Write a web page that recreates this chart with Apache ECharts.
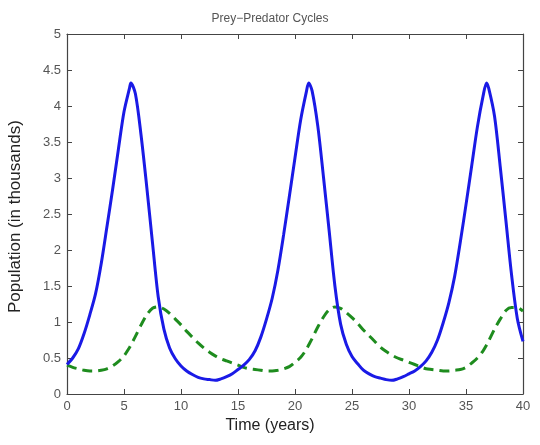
<!DOCTYPE html>
<html>
<head>
<meta charset="utf-8">
<title>Prey-Predator Cycles</title>
<script src="https://cdn.jsdelivr.net/npm/echarts@6.0.0/dist/echarts.min.js"></script>
<style>
body { margin: 0; background: #fff; }
#main { width: 540px; height: 445px; }
</style>
</head>
<body>
<div id="main"></div>
<script>
// 时间 (年)
var years = [0, 0.5, 1, 1.5, 2, 2.5, 3, 3.5, 4, 4.5, 5, 5.5, 5.6, 6, 6.5, 7, 7.5, 8, 8.5, 9, 9.5,
	10, 10.5, 11, 11.5, 12, 12.5, 13, 13.5, 14, 14.5, 15, 15.5, 16, 16.5, 17, 17.5, 18, 18.5, 19, 19.5,
	20, 20.5, 21, 21.2, 21.5, 22, 22.5, 23, 23.5, 24, 24.5, 25, 25.5, 26, 26.5, 27, 27.5, 28, 28.5, 29, 29.5,
	30, 30.5, 31, 31.5, 32, 32.5, 33, 33.5, 34, 34.5, 35, 35.5, 36, 36.5, 36.8, 37, 37.5, 38, 38.5, 39, 39.5, 40];

// 兔子 (prey), 千只
var prey = [0.41, 0.50, 0.63, 0.84, 1.10, 1.39, 1.81, 2.32, 2.84, 3.39, 3.92, 4.26, 4.32, 4.17, 3.59, 2.87, 2.10, 1.35, 0.90, 0.64, 0.49,
	0.39, 0.32, 0.27, 0.23, 0.21, 0.20, 0.19, 0.21, 0.24, 0.28, 0.34, 0.40, 0.48, 0.60, 0.79, 1.04, 1.33, 1.72, 2.21, 2.74,
	3.28, 3.81, 4.20, 4.32, 4.21, 3.72, 3.01, 2.26, 1.50, 0.97, 0.69, 0.52, 0.42, 0.33, 0.28, 0.24, 0.22, 0.20, 0.19, 0.21, 0.24,
	0.28, 0.32, 0.38, 0.46, 0.58, 0.75, 0.99, 1.27, 1.63, 2.11, 2.63, 3.17, 3.71, 4.14, 4.32, 4.24, 3.86, 3.16, 2.41, 1.65, 1.05, 0.73];

// 狼 (predator), 千只
var predator = [0.40, 0.37, 0.35, 0.33, 0.32, 0.32, 0.33, 0.35, 0.39, 0.45, 0.53, 0.65, 0.68, 0.80, 0.96, 1.10, 1.19, 1.21, 1.18, 1.12, 1.04,
	0.96, 0.87, 0.79, 0.71, 0.64, 0.58, 0.53, 0.49, 0.46, 0.43, 0.40, 0.37, 0.35, 0.34, 0.33, 0.32, 0.32, 0.33, 0.35, 0.38,
	0.44, 0.51, 0.62, 0.68, 0.77, 0.93, 1.07, 1.17, 1.21, 1.19, 1.13, 1.06, 0.98, 0.89, 0.81, 0.73, 0.65, 0.59, 0.54, 0.50, 0.47,
	0.44, 0.41, 0.38, 0.35, 0.34, 0.33, 0.32, 0.32, 0.33, 0.34, 0.37, 0.43, 0.50, 0.60, 0.68, 0.74, 0.90, 1.04, 1.16, 1.20, 1.20, 1.15];

var xTicks = [0, 5, 10, 15, 20, 25, 30, 35, 40];
var yTicks = [0, 0.5, 1, 1.5, 2, 2.5, 3, 3.5, 4, 4.5, 5];

function pairs(xs, ys) {
	var out = [];
	for (var i = 0; i < xs.length; i++) {
		out.push([xs[i], ys[i]]);
	}
	return out;
}

var font = 'Liberation Sans, Arial, sans-serif';
var axisColor = '#444';

function boxX(pos, showLabel) {
	return {
		type: 'value', position: pos,
		min: xTicks[0], max: xTicks[xTicks.length - 1], interval: 5,
		axisLine: { show: true, onZero: false, lineStyle: { color: axisColor, width: 1.2 } },
		axisTick: { show: true, inside: true, length: 5, lineStyle: { color: axisColor } },
		axisLabel: { show: showLabel, color: '#555', fontSize: 13, fontFamily: font, margin: 6 },
		splitLine: { show: false }
	};
}
function boxY(pos, showLabel) {
	return {
		type: 'value', position: pos,
		min: yTicks[0], max: yTicks[yTicks.length - 1], interval: 0.5,
		axisLine: { show: true, onZero: false, lineStyle: { color: axisColor, width: 1.2 } },
		axisTick: { show: true, inside: true, length: 5, lineStyle: { color: axisColor } },
		axisLabel: { show: showLabel, color: '#555', fontSize: 13, fontFamily: font, margin: 6 },
		splitLine: { show: false }
	};
}

var myChart = echarts.init(document.getElementById('main'));

var option = {
	backgroundColor: '#fff',
	animation: false,
	title: {
		text: 'Prey\u2212Predator Cycles',
		left: 'center', top: 8,
		textStyle: { fontSize: 12, fontWeight: 'normal', color: '#555', fontFamily: font }
	},
	grid: { left: 67, right: 17, top: 34, bottom: 51 },
	xAxis: [boxX('bottom', true), boxX('top', false)],
	yAxis: [boxY('left', true), boxY('right', false)],
	graphic: [
		{
			type: 'text', left: 'center', top: 418,
			style: { text: 'Time (years)', fontSize: 16, fill: '#222', fontFamily: font }
		},
		{
			type: 'text', x: 7, y: 313, rotation: Math.PI / 2,
			style: { text: 'Population (in thousands)', fontSize: 17, fill: '#222', fontFamily: font }
		}
	],
	series: [
		{
			name: 'Prey',
			type: 'line',
			data: pairs(years, prey),
			smooth: 0.3,
			showSymbol: false,
			lineStyle: { color: '#1a1ae6', width: 3 },
			z: 3
		},
		{
			name: 'Predator',
			type: 'line',
			data: pairs(years, predator),
			smooth: 0.3,
			showSymbol: false,
			lineStyle: { color: '#1e8c1e', width: 3, type: [10, 6] },
			z: 2
		}
	]
};

myChart.setOption(option);
</script>
</body>
</html>
